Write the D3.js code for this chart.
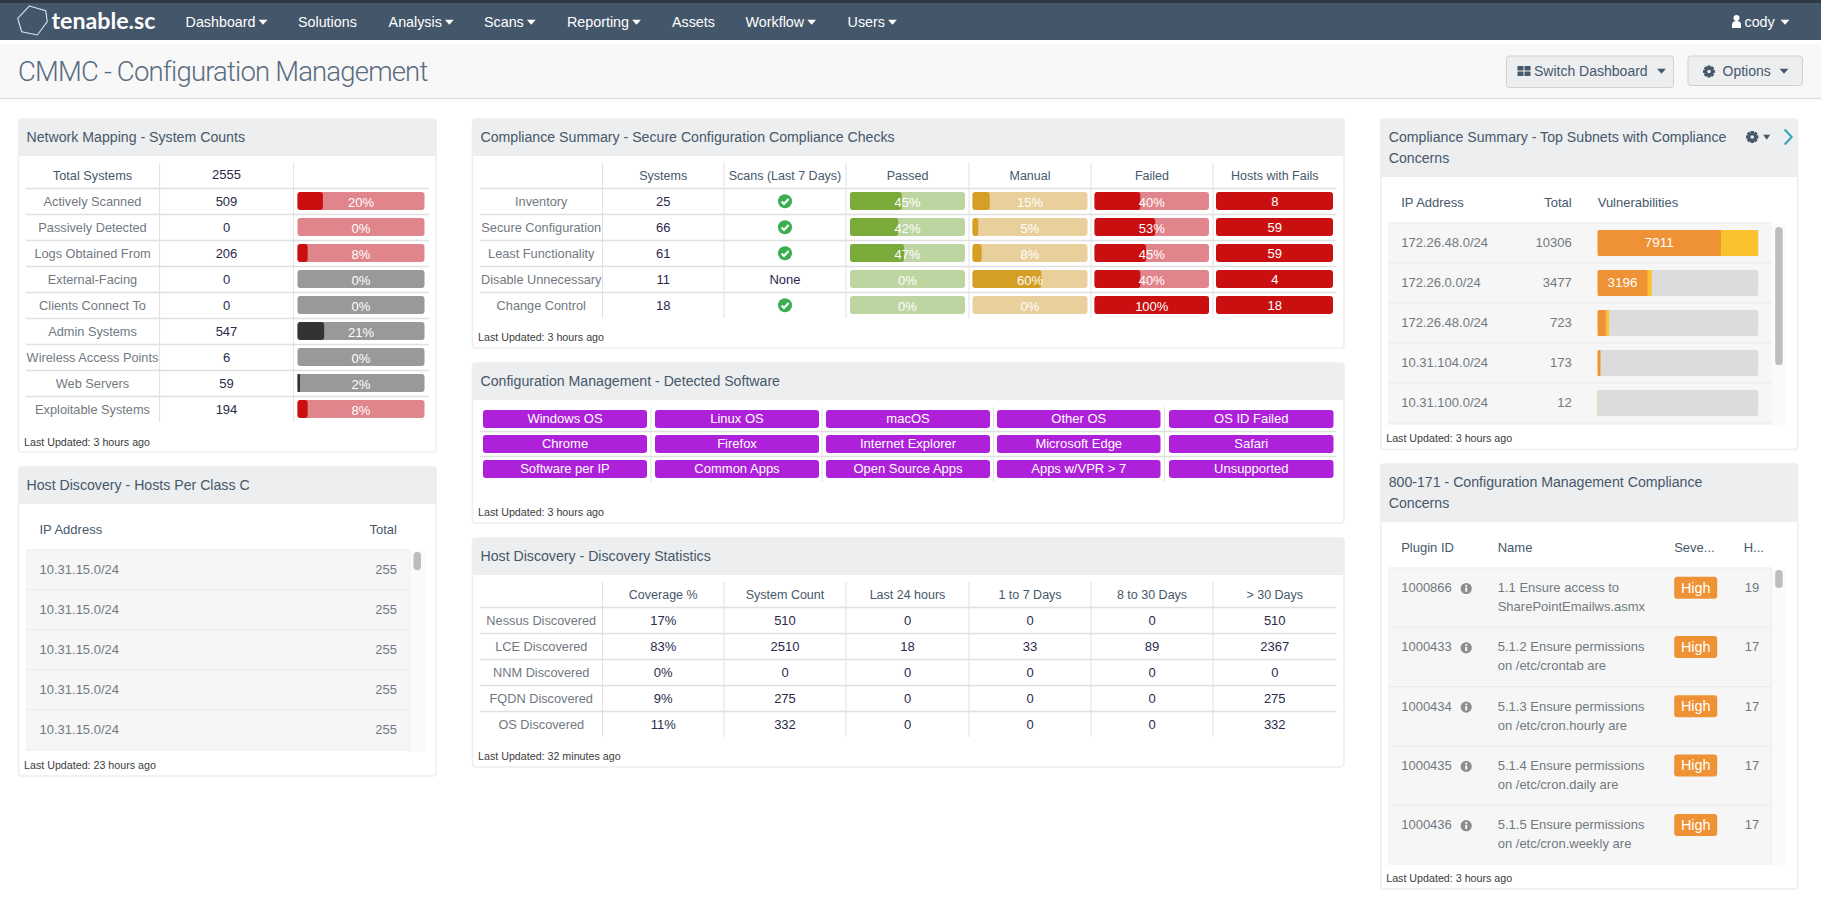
<!DOCTYPE html>
<html><head><meta charset="utf-8"><title>CMMC - Configuration Management</title>
<script src="https://cdn.jsdelivr.net/npm/d3@7/dist/d3.min.js"></script>
<style>html,body{margin:0;padding:0;background:#fff}svg{display:block}text{font-family:"Liberation Sans",Arial,sans-serif}</style>
</head><body><svg id="c" width="1821" height="910"></svg>
<script>
// ---------- data ----------
const navLabels=["Dashboard","Solutions","Analysis","Scans","Reporting","Assets","Workflow","Users"];
const navCarets=[true,false,true,true,true,false,true,true];
const pageTitle="CMMC - Configuration Management";
const sysLabels=["Actively Scanned","Passively Detected","Logs Obtained From","External-Facing","Clients Connect To","Admin Systems","Wireless Access Points","Web Servers","Exploitable Systems"];
const sysCounts=[509,0,206,0,0,547,6,59,194];
const sysPct=[20,0,8,0,0,21,0,2,8];
const sysGroup=["red","red","red","gray","gray","gray","gray","gray","red"];
const totalSystems=2555;
const compLabels=["Inventory","Secure Configuration","Least Functionality","Disable Unnecessary","Change Control"];
const compHeads=["Systems","Scans (Last 7 Days)","Passed","Manual","Failed","Hosts with Fails"];
const compSystems=[25,66,61,11,18];
const compScans=[true,true,true,false,true];
const compPassed=[45,42,47,0,0];
const compManual=[15,5,8,60,0];
const compFailed=[40,53,45,40,100];
const compHosts=[8,59,59,4,18];
const softwareLabels=["Windows OS","Linux OS","macOS","Other OS","OS ID Failed","Chrome","Firefox","Internet Explorer","Microsoft Edge","Safari","Software per IP","Common Apps","Open Source Apps","Apps w/VPR > 7","Unsupported"];
const discLabels=["Nessus Discovered","LCE Discovered","NNM Discovered","FQDN Discovered","OS Discovered"];
const discHeads=["Coverage %","System Count","Last 24 hours","1 to 7 Days","8 to 30 Days","> 30 Days"];
const discCoverage=["17%","83%","0%","9%","11%"];
const discCount=[510,2510,0,275,332];
const discLast24=[0,18,0,0,0];
const disc1to7=[0,33,0,0,0];
const disc8to30=[0,89,0,0,0];
const discOver30=[510,2367,0,275,332];
const classCIps=["10.31.15.0/24","10.31.15.0/24","10.31.15.0/24","10.31.15.0/24","10.31.15.0/24"];
const classCTotals=[255,255,255,255,255];
const subnetIps=["172.26.48.0/24","172.26.0.0/24","172.26.48.0/24","10.31.104.0/24","10.31.100.0/24"];
const subnetTotals=[10306,3477,723,173,12];
const subnetHigh=[7911,3196,515,170,10];
const subnetShown=["7911","3196","","",""];
const pluginIds=["1000866","1000433","1000434","1000435","1000436"];
const pluginLine1=["1.1 Ensure access to","5.1.2 Ensure permissions","5.1.3 Ensure permissions","5.1.4 Ensure permissions","5.1.5 Ensure permissions"];
const pluginLine2=["SharePointEmailws.asmx","on /etc/crontab are","on /etc/cron.hourly are","on /etc/cron.daily are","on /etc/cron.weekly are"];
const pluginHosts=[19,17,17,17,17];

// ---------- palette ----------
const C={nav:"#44566a",navTop:"#2e3b47",band:"#f8f8f8",head:"#edeef0",title:"#46586a",label:"#71797f",value:"#2a2a4c",
 line:"#e0e0e0",row:"#f6f6f6",rowLine:"#ebebeb",red:"#c90f0f",redL:"#e1858c",grayL:"#999999",dark:"#333333",
 green:"#7aab3a",greenL:"#bdd5a1",gold:"#d49f24",goldL:"#e8cf9b",purple:"#ae20d9",orange:"#ee9235",yellow:"#f9c22e",track:"#dcdcdc",ok:"#3bae52",steel:"#46586a"};
const HS=12.5,LS=12.75;

const svg=d3.select("#c");
const txt=(p,x,y,s,o={})=>p.append("text").attr("x",x).attr("y",y).attr("dy",".35em")
  .attr("text-anchor",o.a||"start").attr("font-size",o.s||13).attr("font-weight",o.w||400)
  .attr("letter-spacing",o.ls||null).attr("fill",o.c||C.label).style("font-family",o.f||null).text(s);
const rect=(p,x,y,w,h,f,r=0)=>p.append("rect").attr("x",x).attr("y",y).attr("width",Math.max(0,w)).attr("height",h).attr("fill",f).attr("rx",r);
const hl=(p,x1,x2,y,c=C.line,w=1.6)=>p.append("line").attr("x1",x1).attr("x2",x2).attr("y1",y).attr("y2",y).attr("stroke",c).attr("stroke-width",w);
const vl=(p,x,y1,y2,c=C.line,w=1)=>p.append("line").attr("x1",x).attr("x2",x).attr("y1",y1).attr("y2",y2).attr("stroke",c).attr("stroke-width",w);
const caret=(p,x,y,c,sz=4.4)=>p.append("path").attr("d",d3.line()([[x-sz,y-2.2],[x+sz,y-2.2],[x,y+2.8]])+"Z").attr("fill",c);
function gear(p,x,y,r,c){const g=p.append("g").attr("transform",`translate(${x},${y})`);
  d3.range(8).forEach(i=>g.append("rect").attr("x",-1.5).attr("y",-r).attr("width",3).attr("height",r*2).attr("fill",c).attr("transform",`rotate(${i*45})`));
  g.append("circle").attr("r",r*.72).attr("fill",c);g.append("circle").attr("r",r*.3).attr("fill",C.head);}
function okIcon(p,x,y){p.append("circle").attr("cx",x).attr("cy",y).attr("r",7).attr("fill",C.ok);
  p.append("path").attr("d",`M${x-3.4},${y+.2}L${x-1},${y+2.7}L${x+3.6},${y-2.2}`).attr("fill","none").attr("stroke","#fff").attr("stroke-width",2.1);}
function infoIcon(p,x,y){p.append("circle").attr("cx",x).attr("cy",y).attr("r",5.6).attr("fill","#8d8d8d");
  rect(p,x-.9,y-1,1.9,4.2,"#fff");rect(p,x-.9,y-3.6,1.9,1.7,"#fff");}
function panel(x0,x1,y0,hb,y1,lines,footer,fx,fy){
  const g=svg.append("g");
  g.append("rect").attr("x",x0).attr("y",y0).attr("width",x1-x0).attr("height",y1-y0).attr("rx",3).attr("fill","#fff").attr("stroke","#eeeeee").attr("stroke-width",1.5);
  g.append("path").attr("d",`M${x0},${hb}V${y0+3}Q${x0},${y0} ${x0+3},${y0}H${x1-3}Q${x1},${y0} ${x1},${y0+3}V${hb}Z`).attr("fill",C.head);
  lines.forEach((t,i)=>txt(g,x0+8,y0+18+i*21,t,{s:14.15,c:C.title}));
  if(footer)txt(g,fx,fy,footer,{s:10.7,c:"#3c3c3c"});
  return g;
}

// ---------- nav + page header ----------
rect(svg,0,0,1821,40,C.nav);rect(svg,0,0,1821,3,C.navTop);
rect(svg,0,44,1821,54,C.band);hl(svg,0,1821,98.5,"#dddddd",1.5);
svg.append("path").attr("d","M29.3,6L45.7,10.7L47.3,21.7L37.3,35L21.7,31.7L17.7,18.3Z").attr("fill","none").attr("stroke","#dfe4e8").attr("stroke-width",1.1);
txt(svg,51.5,20.5,"tenable.sc",{s:23.2,c:"#fff",w:700,f:"Lato"});
const navX=[185.6,298,388.6,484,567,672,745.6,847.6];
navLabels.forEach((t,i)=>{const n=txt(svg,navX[i],22,t,{s:14.3,c:"#fff"});
  if(navCarets[i])caret(svg,navX[i]+n.node().getComputedTextLength()+7.5,22,"#fff");});
svg.append("circle").attr("cx",1736.5).attr("cy",18).attr("r",3).attr("fill","#fff");
svg.append("path").attr("d","M1732,28V24.5Q1732,21 1736.5,21Q1741,21 1741,24.5V28Z").attr("fill","#fff");
txt(svg,1744.5,22,"cody",{s:14.3,c:"#fff"});caret(svg,1785,22,"#fff");
txt(svg,18,71,pageTitle,{s:27.5,c:"#5a6c7f",w:300,f:"Roboto",ls:-0.82});
// buttons
[[1506.5,1673.5,87.5],[1688,1802.5,85.5]].forEach(b=>{
  svg.append("rect").attr("x",b[0]).attr("y",56).attr("width",b[1]-b[0]).attr("height",b[2]-56).attr("rx",3).attr("fill","#eceef0").attr("stroke","#cfd1d3");});
[[1517.5,66],[1524.5,66],[1517.5,71.5],[1524.5,71.5]].forEach(q=>rect(svg,q[0],q[1],6,4.6,C.steel,.6));
txt(svg,1534,71,"Switch Dashboard",{s:14,c:C.steel});caret(svg,1661.5,71,C.steel);
gear(svg,1709,71.5,5.8,C.steel);txt(svg,1722.5,71,"Options",{s:14,c:C.steel});caret(svg,1784,71,C.steel);

// ---------- network mapping ----------
{const g=panel(18.5,436,119,156,452,["Network Mapping - System Counts"],"Last Updated: 3 hours ago",24,442);
 const x0=26,x1=429,sep=[159.6,293.6];
 const yRow=d3.scaleBand().domain(d3.range(sysLabels.length)).range([189,189+26*sysLabels.length]);
 sep.forEach(s=>vl(g,s,163,422));
 txt(g,92.5,175.3,"Total Systems",{a:"middle",c:C.title,s:LS});txt(g,226.5,174.5,totalSystems,{a:"middle",c:C.value});
 const w=d3.scaleLinear().domain([0,100]).range([0,127]);
 sysLabels.forEach((t,i)=>{const y=yRow(i),m=y+yRow.bandwidth()/2;
   hl(g,x0,x1,y-.5);
   txt(g,92.5,m,t,{a:"middle",s:LS});txt(g,226.5,m-1,sysCounts[i],{a:"middle",c:C.value});
   const red=sysGroup[i]=="red";
   rect(g,297.5,y+3,127,18,red?C.redL:C.grayL,3);
   rect(g,297.5,y+3,w(sysPct[i]),18,red?C.red:C.dark,sysPct[i]>3?3:0);
   txt(g,361,m,sysPct[i]+"%",{a:"middle",c:"#fff"});});
}
// ---------- host discovery class C ----------
function scrollBar(g,x0,x1,y0,y1,t0,t1){rect(g,x0,y0,x1-x0,y1-y0,"#fafafa");rect(g,x0+3,t0,x1-x0-7,t1-t0,"#bdbdbd",3.5);}
{const g=panel(18.5,436,467,504,776,["Host Discovery - Hosts Per Class C"],"Last Updated: 23 hours ago",24,765);
 txt(g,39.5,529.5,"IP Address",{c:C.title});txt(g,397,529.5,"Total",{a:"end",c:C.title});
 const y=d3.scaleBand().domain(d3.range(classCIps.length)).range([550,750]);
 classCIps.forEach((ip,i)=>{rect(g,26,y(i),384,y.bandwidth(),C.row);hl(g,26,410,y(i),C.rowLine,1);
   txt(g,39.5,y(i)+19.5,ip);txt(g,397,y(i)+19.5,classCTotals[i],{a:"end"});});
 hl(g,26,410,750,C.rowLine,1);vl(g,410,550,751.5,C.rowLine);
 scrollBar(g,410.5,425,551,751.5,552,570);
}
// ---------- compliance checks ----------
const midSep=[602.5,724,846,969,1091,1213];const midEdge=[480,...midSep,1336.5];
const midCenter=d3.range(7).map(i=>(midEdge[i]+midEdge[i+1])/2);
{const g=panel(472.5,1344,119,156,348,["Compliance Summary - Secure Configuration Compliance Checks"],"Last Updated: 3 hours ago",478,337);
 const y=d3.scaleBand().domain(d3.range(compLabels.length)).range([189,319]);
 midSep.forEach(s=>vl(g,s,163,318));
 compHeads.forEach((h,i)=>txt(g,midCenter[i+1],175.3,h,{a:"middle",c:C.title,s:HS}));
 const bars=[[850,965,compPassed,C.green,C.greenL],[972.5,1087.5,compManual,C.gold,C.goldL],[1094.5,1209,compFailed,C.red,C.redL]];
 compLabels.forEach((t,i)=>{const r=y(i),m=r+13;
   hl(g,480,1336.5,r-.5);
   txt(g,midCenter[0],m-.3,t,{a:"middle",s:LS});txt(g,midCenter[1],m-1,compSystems[i],{a:"middle",c:C.value});
   if(compScans[i])okIcon(g,midCenter[2],m-.8);else txt(g,midCenter[2],m-1,"None",{a:"middle",c:C.value});
   bars.forEach(b=>{const w=d3.scaleLinear().domain([0,100]).range([0,b[1]-b[0]]);
     rect(g,b[0],r+3,b[1]-b[0],18,b[4],3);rect(g,b[0],r+3,w(b[2][i]),18,b[3],3);
     txt(g,(b[0]+b[1])/2,m,b[2][i]+"%",{a:"middle",c:"#fff"});});
   rect(g,1216,r+3,117,18,C.red,3);txt(g,midCenter[6],m-1,compHosts[i],{a:"middle",c:"#fff"});});
}
// ---------- detected software ----------
{const g=panel(472.5,1344,363,400,523,["Configuration Management - Detected Software"],"Last Updated: 3 hours ago",478,512.5);
 const bx=[[483,647],[655,819],[826,990],[997,1160.5],[1169,1333.5]];
 const ry=d3.scaleBand().domain([0,1,2]).range([410,485]);
 [651,822,993.5,1164.5].forEach(s=>vl(g,s,407,482));
 [431.5,456.5].forEach(l=>hl(g,480,1336.5,l));
 softwareLabels.forEach((t,i)=>{const c=i%5,r=Math.floor(i/5);
   rect(g,bx[c][0],ry(r),bx[c][1]-bx[c][0],18,C.purple,3);
   txt(g,(bx[c][0]+bx[c][1])/2,ry(r)+8.5,t,{a:"middle",c:"#fff"});});
}
// ---------- discovery statistics ----------
{const g=panel(472.5,1344,538,575,767,["Host Discovery - Discovery Statistics"],"Last Updated: 32 minutes ago",478,756.5);
 const y=d3.scaleBand().domain(d3.range(discLabels.length)).range([608,738]);
 midSep.forEach(s=>vl(g,s,582,737));
 discHeads.forEach((h,i)=>txt(g,midCenter[i+1],594.3,h,{a:"middle",c:C.title,s:HS}));
 const cols=[discCoverage,discCount,discLast24,disc1to7,disc8to30,discOver30];
 discLabels.forEach((t,i)=>{const r=y(i),m=r+13;
   hl(g,480,1336.5,r-.5);
   txt(g,midCenter[0],m-.3,t,{a:"middle",s:LS});
   cols.forEach((c,j)=>txt(g,midCenter[j+1],m-1,c[i],{a:"middle",c:C.value}));});
}
// ---------- top subnets ----------
{const g=panel(1380,1797,119,177,449.5,["Compliance Summary - Top Subnets with Compliance","Concerns"],"Last Updated: 3 hours ago",1385.5,438);
 g.attr("transform","translate(0.7,0)");
 gear(g,1751.5,137,6,C.steel);caret(g,1766,137,C.steel,3.5);
 g.append("path").attr("d","M1784,129.5L1791,137L1784,144.5").attr("fill","none").attr("stroke","#2fa6b5").attr("stroke-width",2);
 txt(g,1400.5,202.5,"IP Address",{c:C.title});txt(g,1571,202.5,"Total",{a:"end",c:C.title});txt(g,1597,202.5,"Vulnerabilities",{c:C.title});
 const y=d3.scaleBand().domain(d3.range(subnetIps.length)).range([223,423]);
 const w=d3.scaleLinear().domain([0,d3.max(subnetTotals)]).range([0,160.5]);
 rect(g,1387.5,223,383.5,202,C.row);
 subnetIps.forEach((ip,i)=>{const r=y(i);
   hl(g,1387.5,1771,r,C.rowLine,1);
   txt(g,1400.5,r+19.3,ip);txt(g,1571,r+19.3,subnetTotals[i],{a:"end"});
   rect(g,1597,r+7,160.5,26,C.track,1.5);
   rect(g,1597,r+7,w(subnetTotals[i]),26,C.yellow,1.5);
   rect(g,1597,r+7,w(subnetHigh[i]),26,C.orange,1.5);
   if(subnetShown[i])txt(g,1597+w(subnetHigh[i])/2,r+19.3,subnetShown[i],{a:"middle",c:"#fff",s:13.5});});
 hl(g,1387.5,1771,423,C.rowLine,1);
 scrollBar(g,1771.5,1786,224,425,227,365);
}
// ---------- 800-171 ----------
{const g=panel(1380,1797,464,522,889,["800-171 - Configuration Management Compliance","Concerns"],"Last Updated: 3 hours ago",1385.5,878);
 g.attr("transform","translate(0.7,0)");
 txt(g,1400.5,547,"Plugin ID",{c:C.title});txt(g,1497,547,"Name",{c:C.title});
 txt(g,1673.5,547,"Seve...",{c:C.title});txt(g,1743,547,"H...",{c:C.title});
 const y=d3.scaleBand().domain(d3.range(pluginIds.length)).range([568,864.5]);
 rect(g,1387.5,568,383.5,297,C.row);vl(g,1771,568,865,C.rowLine);
 pluginIds.forEach((id,i)=>{const r=y(i);
   hl(g,1387.5,1771,r,C.rowLine,1);
   txt(g,1400.5,r+19.5,id);infoIcon(g,1465.5,r+20.5);
   txt(g,1497,r+19.5,pluginLine1[i]);txt(g,1497,r+38.5,pluginLine2[i]);
   rect(g,1673.5,r+8.7,43,22,C.orange,3);txt(g,1695,r+19.5,"High",{a:"middle",c:"#fff",s:14.4});
   txt(g,1744,r+19.5,pluginHosts[i]);});
 scrollBar(g,1771.5,1786,569,865,570,588);
}
</script></body></html>
